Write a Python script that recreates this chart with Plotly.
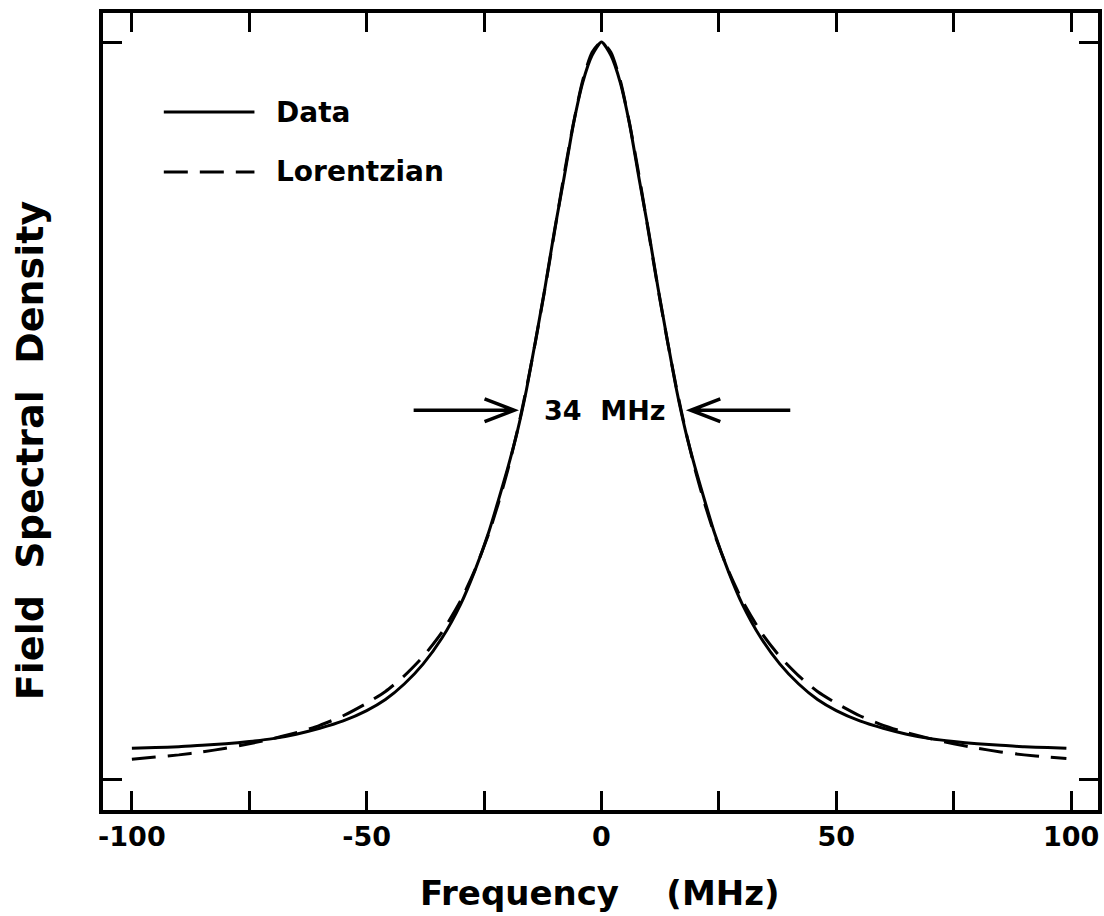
import plotly.graph_objects as go

# ---------------- data ----------------
freq_data = [-100, -95, -90, -85, -80, -75, -70, -65, -60, -55, -50, -46, -42, -38, -34,
             -30, -27, -24, -22, -20, -18, -16, -14, -12, -10, -8, -6, -4, -2, 0,
             2, 4, 6, 8, 10, 12, 14, 16, 18, 20, 22, 24, 27, 30, 34, 38, 42, 46,
             50, 55, 60, 65, 70, 75, 80, 85, 90, 95, 99]
data_vals = [0.043, 0.044, 0.045, 0.047, 0.049, 0.052, 0.056, 0.062, 0.070, 0.080, 0.094,
             0.109, 0.130, 0.157, 0.192, 0.238, 0.283, 0.336, 0.378, 0.422, 0.470, 0.528,
             0.597, 0.668, 0.745, 0.815, 0.888, 0.945, 0.982, 1.000,
             0.982, 0.945, 0.888, 0.815, 0.745, 0.668, 0.597, 0.528, 0.470, 0.422, 0.378,
             0.336, 0.283, 0.238, 0.192, 0.157, 0.130, 0.109, 0.094, 0.080, 0.070, 0.062,
             0.056, 0.052, 0.049, 0.047, 0.045, 0.044, 0.043]

freq_lor = [-100, -95, -90, -85, -80, -75, -70, -65, -60, -55, -50, -46, -42, -38, -34,
            -30, -27, -24, -22, -20, -18, -16, -14, -12, -10, -8, -6, -4, -2, 0,
            2, 4, 6, 8, 10, 12, 14, 16, 18, 20, 22, 24, 27, 30, 34, 38, 42, 46,
            50, 55, 60, 65, 70, 75, 80, 85, 90, 95, 99]
lor_vals = [0.028, 0.031, 0.034, 0.038, 0.043, 0.049, 0.056, 0.064, 0.074, 0.087, 0.104,
            0.120, 0.141, 0.167, 0.200, 0.243, 0.284, 0.334, 0.374, 0.419, 0.471, 0.530,
            0.596, 0.667, 0.743, 0.819, 0.889, 0.948, 0.986, 1.000,
            0.986, 0.948, 0.889, 0.819, 0.743, 0.667, 0.596, 0.530, 0.471, 0.419, 0.374,
            0.334, 0.284, 0.243, 0.200, 0.167, 0.141, 0.120, 0.104, 0.087, 0.074, 0.064,
            0.056, 0.049, 0.043, 0.038, 0.034, 0.031, 0.029]

x_tick_vals = [-100, -75, -50, -25, 0, 25, 50, 75, 100]
x_tick_text = ["-100", "", "-50", "", "0", "", "50", "", "100"]
y_tick_vals = [0, 1]

series_names = ["Data", "Lorentzian"]
width_label = "34\u00a0\u00a0MHz"
x_title = "Frequency\u00a0\u00a0\u00a0\u00a0(MHz)"
y_title = "Field\u00a0\u00a0Spectral\u00a0\u00a0Density"

# annotation geometry (data units)
arrow_tips = [-18.6, 19.0]
arrow_tails = [-40.0, 40.2]
arrow_y = 0.501
head_len = 6.3      # MHz
head_half = 0.0155  # y units
legend_x0, legend_x1, legend_text_x = -93.2, -73.9, -69.7
legend_y = [0.905, 0.824]

FONT = "DejaVu Sans"
INK = "black"
DASH = "24px,12px"

fig = go.Figure()
fig.add_trace(go.Scatter(x=freq_data, y=data_vals, mode="lines", name=series_names[0],
                         line=dict(color=INK, width=3, shape="spline", smoothing=0.6),
                         showlegend=False))
fig.add_trace(go.Scatter(x=freq_lor, y=lor_vals, mode="lines", name=series_names[1],
                         line=dict(color=INK, width=3, dash=DASH, shape="spline", smoothing=0.6),
                         showlegend=False))

# legend drawn manually (long line samples)
fig.add_shape(type="line", xref="x", yref="y", x0=legend_x0, x1=legend_x1,
              y0=legend_y[0], y1=legend_y[0], line=dict(color=INK, width=3))
fig.add_shape(type="line", xref="x", yref="y", x0=legend_x0, x1=legend_x1,
              y0=legend_y[1], y1=legend_y[1], line=dict(color=INK, width=3, dash=DASH))
for name, yy in zip(series_names, legend_y):
    fig.add_annotation(x=legend_text_x, y=yy, xref="x", yref="y", text=name,
                       showarrow=False, xanchor="left", yanchor="middle",
                       font=dict(family=FONT, size=28, color=INK, weight="bold"))

# width arrows (shaft + open V head)
for tip, tail in zip(arrow_tips, arrow_tails):
    d = 1 if tail < tip else -1
    back = tip - d * head_len
    path = (f"M {tail},{arrow_y} L {tip},{arrow_y} "
            f"M {back},{arrow_y + head_half} L {tip},{arrow_y} L {back},{arrow_y - head_half}")
    fig.add_shape(type="path", xref="x", yref="y", path=path,
                  line=dict(color=INK, width=3.5))
fig.add_annotation(x=0.7, y=arrow_y, xref="x", yref="y", text=width_label,
                   showarrow=False, xanchor="center", yanchor="middle",
                   font=dict(family=FONT, size=27, color=INK, weight="bold"))

# axis titles
fig.add_annotation(x=0.4995, y=-0.104, xref="paper", yref="paper", text=x_title,
                   showarrow=False, xanchor="center", yanchor="middle",
                   font=dict(family=FONT, size=34, color=INK, weight="bold"))
fig.add_annotation(x=-0.074, y=0.452, xref="paper", yref="paper", text=y_title,
                   showarrow=False, xanchor="center", yanchor="middle", textangle=-90,
                   font=dict(family=FONT, size=38, color=INK, weight="bold"))

axis_common = dict(showline=True, linecolor=INK, linewidth=3.5, mirror="ticks",
                   ticks="inside", ticklen=19, tickwidth=3, tickcolor=INK,
                   showgrid=False, zeroline=False)
fig.update_xaxes(range=[-106.15, 105.73], tickvals=x_tick_vals, ticktext=x_tick_text,
                 tickfont=dict(family=FONT, size=27, color=INK, weight="bold"),
                 **axis_common)
fig.update_yaxes(range=[-0.0407, 1.0393], tickvals=y_tick_vals, showticklabels=False,
                 **axis_common)

fig.update_layout(width=1104, height=916, margin=dict(l=103, r=2, t=13, b=106),
                  paper_bgcolor="white", plot_bgcolor="white",
                  font=dict(family=FONT, color=INK))

fig.write_html("out.html")
